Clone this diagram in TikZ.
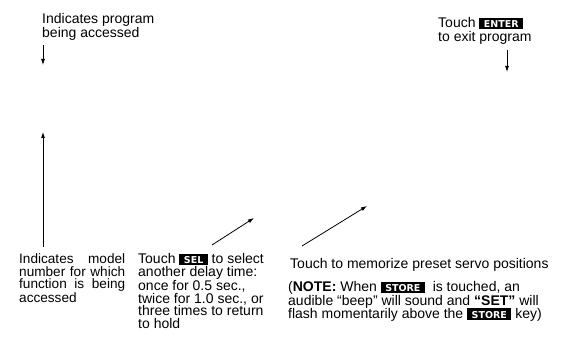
\documentclass[tikz,border=0pt]{standalone}
\usepackage{fontspec}
\setmainfont{Liberation Sans}
\newfontfamily\keyfont{DejaVu Sans}
\usetikzlibrary{arrows.meta}

% black key caps as printed on the unit
\newcommand{\lcdkey}[1]{{\fboxsep=0pt\colorbox{black}{\rule[-1.5pt]{0pt}{11.5pt}\hspace{4.5pt}\textcolor{white}{\keyfont\bfseries\fontsize{9.5}{9.5}\selectfont #1}\hspace{4.5pt}}}}

\tikzset{
  note/.style={anchor=base west, inner sep=0pt, align=left, font=\fontsize{14}{12.6}\selectfont},
  topnote/.style={note, font=\fontsize{14}{14}\selectfont},
  pointer/.style={->, line width=0.8pt}
}

\begin{document}
\begin{tikzpicture}[x=1pt, y=-1pt, >={Latex[length=6pt,width=4pt]}]
        \useasboundingbox (0,0) rectangle (565,347);

        % nodes are placed by the baseline of their last line
        \node[topnote] (prog) at (42,37.3) {Indicates program\\being accessed};
        \node[topnote] (enter) at (438,41.7) {Touch \lcdkey{ENTER}\\to exit program};

        % (text width: placed by its first line)
        \node[note, text width=106pt, align=justify, font=\fontsize{13.6}{12.4}\selectfont] (model) at (19,264)
          {Indicates model\linebreak number for which\linebreak function is being\linebreak accessed};
        \node[note] (sel) at (138,328.3)
          {Touch \lcdkey{SEL} to select\\another delay time:\\once for 0.5 sec.,\\twice for 1.0 sec., or\\three times to return\\to hold};
        \node[note] (store) at (290,268.3) {Touch to memorize preset servo positions};
        \node[note, font=\fontsize{14}{13.3}\selectfont] (storenote) at (288,318.3)
          {(\textbf{NOTE:} When \lcdkey{STORE}\ \ is touched, an\\audible “beep” will sound and \textbf{“SET”} will\\flash momentarily above the \lcdkey{STORE} key)};

        % pointer ends
        \coordinate (progfrom) at (43,45);
        \coordinate (progto) at (43,65);
        \coordinate (enterfrom) at (507,50);
        \coordinate (enterto) at (507,72);
        \coordinate (modelfrom) at (43,247);
        \coordinate (modelto) at (43,132);
        \coordinate (selfrom) at (212,245);
        \coordinate (selto) at (254,218);
        \coordinate (storefrom) at (302,246);
        \coordinate (storeto) at (367,206);

        \draw[pointer] (progfrom) -- (progto);
        \draw[pointer] (enterfrom) -- (enterto);
        \draw[pointer] (modelfrom) -- (modelto);
        \draw[pointer] (selfrom) -- (selto);
        \draw[pointer] (storefrom) -- (storeto);
    \end{tikzpicture}
\end{document}
